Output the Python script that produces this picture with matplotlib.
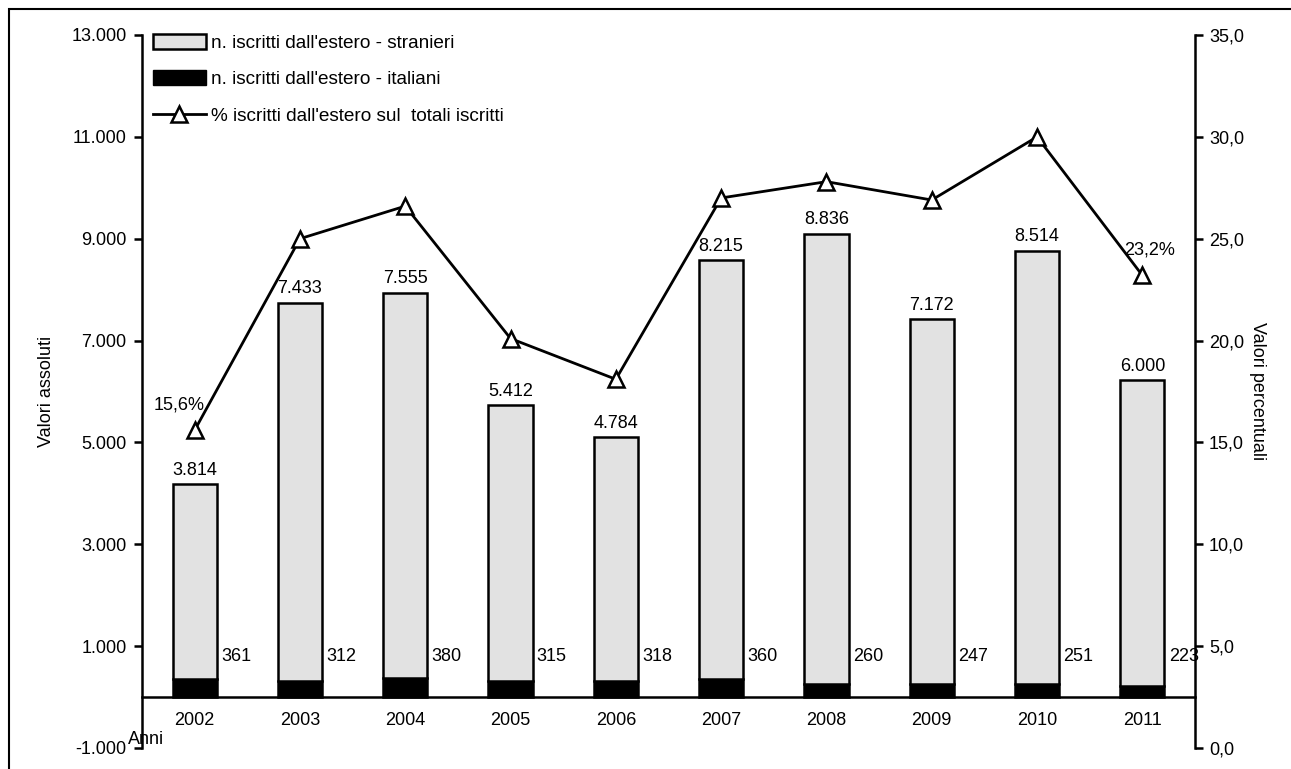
import matplotlib
matplotlib.use("Agg")
import matplotlib.pyplot as plt
from matplotlib.patches import Rectangle, Patch
from matplotlib.lines import Line2D
from matplotlib.ticker import FuncFormatter, FixedLocator

plt.rcParams['font.family'] = ['Liberation Sans', 'DejaVu Sans']

anni = ['2002', '2003', '2004', '2005', '2006', '2007', '2008', '2009', '2010', '2011']
stranieri = [3814, 7433, 7555, 5412, 4784, 8215, 8836, 7172, 8514, 6000]
italiani = [361, 312, 380, 315, 318, 360, 260, 247, 251, 223]
percentuale = [15.6, 25.0, 26.6, 20.1, 18.1, 27.0, 27.8, 26.9, 30.0, 23.2]
pct_labels = {0: '15,6%', 9: '23,2%'}

lab_str = "n. iscritti dall'estero - stranieri"
lab_ita = "n. iscritti dall'estero - italiani"
lab_pct = "% iscritti dall'estero sul  totali iscritti"

FS = 13
fill = '#e2e2e2'

fig = plt.figure(figsize=(12.91, 7.69), dpi=100)
fig.patches.append(Rectangle((9/1291, -0.01), 1.0, 1 - 9/769 + 0.01, transform=fig.transFigure,
                             fill=False, edgecolor='black', linewidth=1.5))
ax = fig.add_axes([142/1291, 21/769, (1195-142)/1291, (748-35)/769])
ax2 = ax.twinx()

x = list(range(len(anni)))
w = 0.42
ax.bar(x, italiani, width=w, color='black', edgecolor='black', linewidth=1.8, zorder=2)
ax.bar(x, stranieri, width=w, bottom=italiani, color=fill, edgecolor='black',
       linewidth=1.8, zorder=2)

for i in x:
    top = stranieri[i] + italiani[i]
    ax.annotate(f"{stranieri[i]:,}".replace(',', '.'), (i, top), xytext=(0, 4),
                textcoords='offset points', ha='center', va='bottom', fontsize=FS)
    kw = {}
    if i == len(anni) - 1:
        kw = dict(bbox=dict(facecolor='white', edgecolor='none', pad=0.5))
    ax.annotate(str(italiani[i]), (i + w/2, 800), xytext=(3, 0), textcoords='offset points',
                ha='left', va='center', fontsize=FS, zorder=5, **kw)

ax.set_xlim(-0.5, 9.5)
ax.set_ylim(-1000, 13000)
ax.yaxis.set_major_locator(FixedLocator(list(range(-1000, 13001, 2000))))
ax.yaxis.set_major_formatter(FuncFormatter(lambda v, p: f"{int(v):,}".replace(',', '.')))
ax.set_xticks(x)
ax.set_xticklabels(anni)
ax.spines['bottom'].set_position(('data', 0))
ax.spines['top'].set_visible(False)
ax.spines['right'].set_visible(False)
ax.spines['left'].set_linewidth(1.8)
ax.spines['bottom'].set_linewidth(1.8)
ax.tick_params(axis='x', length=0, pad=11, labelsize=FS)
ax.tick_params(axis='y', direction='out', length=6, width=1.8, labelsize=FS, pad=5)
ax.set_ylabel('Valori assoluti', fontsize=FS, labelpad=12)

ax2.plot(x, percentuale, color='black', linewidth=2, marker='^', markersize=11,
         markerfacecolor='white', markeredgecolor='black', markeredgewidth=1.8, zorder=4)
for i, t in pct_labels.items():
    dx = -11 if i == 0 else 5
    ax2.annotate(t, (x[i], percentuale[i]), xytext=(dx, 12), textcoords='offset points',
                 ha='center', va='bottom', fontsize=FS)
ax2.set_ylim(0, 35)
ax2.yaxis.set_major_locator(FixedLocator(list(range(0, 36, 5))))
ax2.yaxis.set_major_formatter(FuncFormatter(lambda v, p: f"{v:.1f}".replace('.', ',')))
for s in ['top', 'left', 'bottom']:
    ax2.spines[s].set_visible(False)
ax2.spines['right'].set_linewidth(1.8)
ax2.tick_params(axis='y', direction='out', length=6, width=1.8, labelsize=FS, pad=4)
ax2.set_ylabel('Valori percentuali', fontsize=FS, rotation=270, labelpad=16)

ax.text(4/1053, 8/713, 'Anni', transform=ax.transAxes, ha='center', va='center', fontsize=FS)

handles = [Patch(facecolor=fill, edgecolor='black', linewidth=1.8),
           Patch(facecolor='black', edgecolor='black'),
           Line2D([], [], color='black', linewidth=2, marker='^', markersize=11,
                  markerfacecolor='white', markeredgecolor='black', markeredgewidth=1.8)]
leg = ax.legend(handles, [lab_str, lab_ita, lab_pct], loc='upper left',
                bbox_to_anchor=(10.5/1053, 1.0 + 1/713), frameon=False, fontsize=13.7,
                handlelength=2.8, handleheight=0.8, handletextpad=0.25, labelspacing=0.97,
                borderaxespad=0, borderpad=0)
leg.set_zorder(10)

fig.savefig('out.png', dpi=100)
